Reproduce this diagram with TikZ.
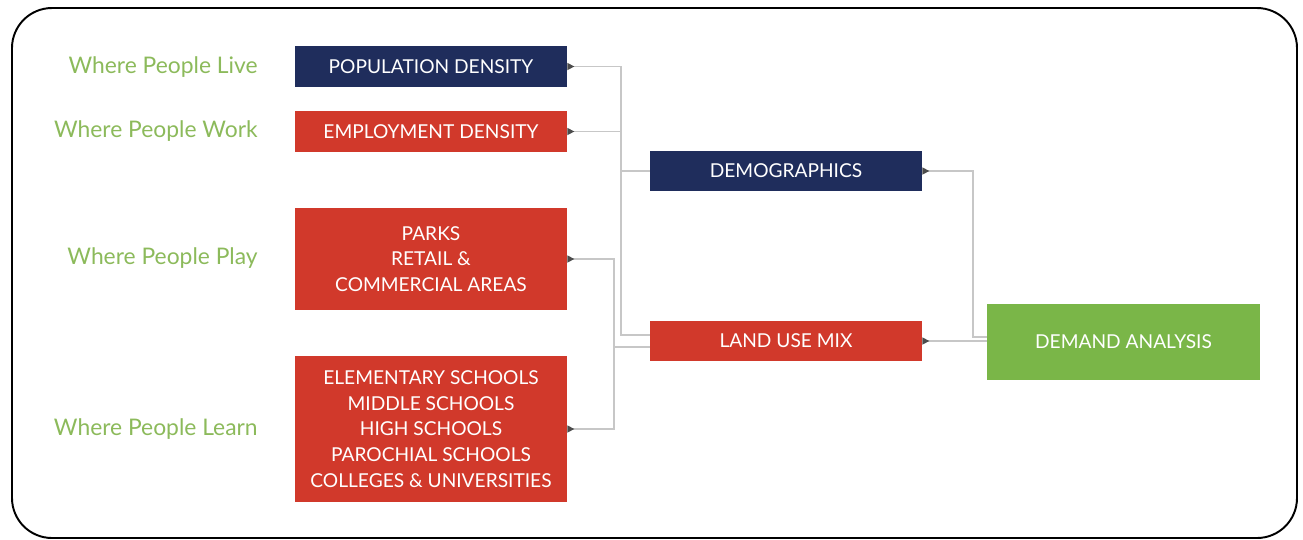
\documentclass[tikz,border=0pt]{standalone}
\usepackage{fontspec}
\setmainfont{Lato}
\usetikzlibrary{arrows.meta}
\definecolor{navy}{HTML}{1F2D5C}
\definecolor{brick}{HTML}{D1392B}
\definecolor{leaf}{HTML}{7AB648}
\definecolor{sage}{HTML}{8CBA5B}
\tikzset{
	box/.style={draw=none, text=white, align=center, minimum width=5.44cm, inner sep=0pt, font=\fontsize{10.9}{14.7}\selectfont},
	link/.style={draw=black!22, line width=.8pt, {Triangle[reversed,length=4pt,width=4pt,color=black!70]}-},
	where/.style={anchor=east, inner sep=0pt, text=sage, font=\fontsize{13}{15}\selectfont}
}

\begin{document}
\begin{tikzpicture}[x=.02cm, y=-.02cm]
	\useasboundingbox (0,0) rectangle (1303,539);
	\draw[line width=1.1pt, rounded corners=.8cm] (12,8) rectangle (1297,538);
	% left column
	\node[box, fill=navy, minimum height=.82cm] (pop) at (431,66.5) {POPULATION DENSITY};
	\node[box, fill=brick, minimum height=.82cm] (emp) at (431,131.5) {EMPLOYMENT DENSITY};
	\node[box, fill=brick, minimum height=2.04cm] (play) at (431,259) {PARKS\\RETAIL \&\\COMMERCIAL AREAS};
	\node[box, fill=brick, minimum height=2.92cm] (learn) at (431,429) {ELEMENTARY SCHOOLS\\MIDDLE SCHOOLS\\HIGH SCHOOLS\\PAROCHIAL SCHOOLS\\COLLEGES \& UNIVERSITIES};
	\foreach \txt/\y in {Live/67, Work/131, Play/258, Learn/429}
		\node[where] (where\txt) at (258,\y) {Where People \txt};
	% middle and right
	\node[box, fill=navy, minimum height=.8cm] (demo) at (786,171) {DEMOGRAPHICS};
	\node[box, fill=brick, minimum height=.8cm] (mix) at (786,341) {LAND USE MIX};
	\node[box, fill=leaf, minimum height=1.52cm, minimum width=5.46cm] (demand) at (1123.5,342) {DEMAND ANALYSIS};
	% buses
	\coordinate (bus) at (621,0);
	\coordinate (bustwo) at (614,0);
	\coordinate (busthree) at (973,0);
	\coordinate (mixa) at ([yshift=.12cm]mix.west);
	\coordinate (mixb) at ([yshift=-.12cm]mix.west);
	\coordinate (demanda) at ([yshift=.1cm]demand.west);
	\draw[link] (pop.east) -- (pop.east -| bus) -- (mixa -| bus) -- (mixa);
	\draw[link] (emp.east) -- (emp.east -| bus);
	\draw[draw=black!22, line width=.8pt] (demo.west -| bus) -- (demo.west);
	\draw[link] (play.east) -- (play.east -| bustwo) -- (mixb -| bustwo) -- (mixb);
	\draw[link] (learn.east) -- (learn.east -| bustwo) -- (mixb -| bustwo);
	\draw[link] (demo.east) -- (demo.east -| busthree) -- (demanda -| busthree) -- (demanda);
	\draw[link] (mix.east) -- (mix.east -| demand.west);
\end{tikzpicture}
\end{document}
